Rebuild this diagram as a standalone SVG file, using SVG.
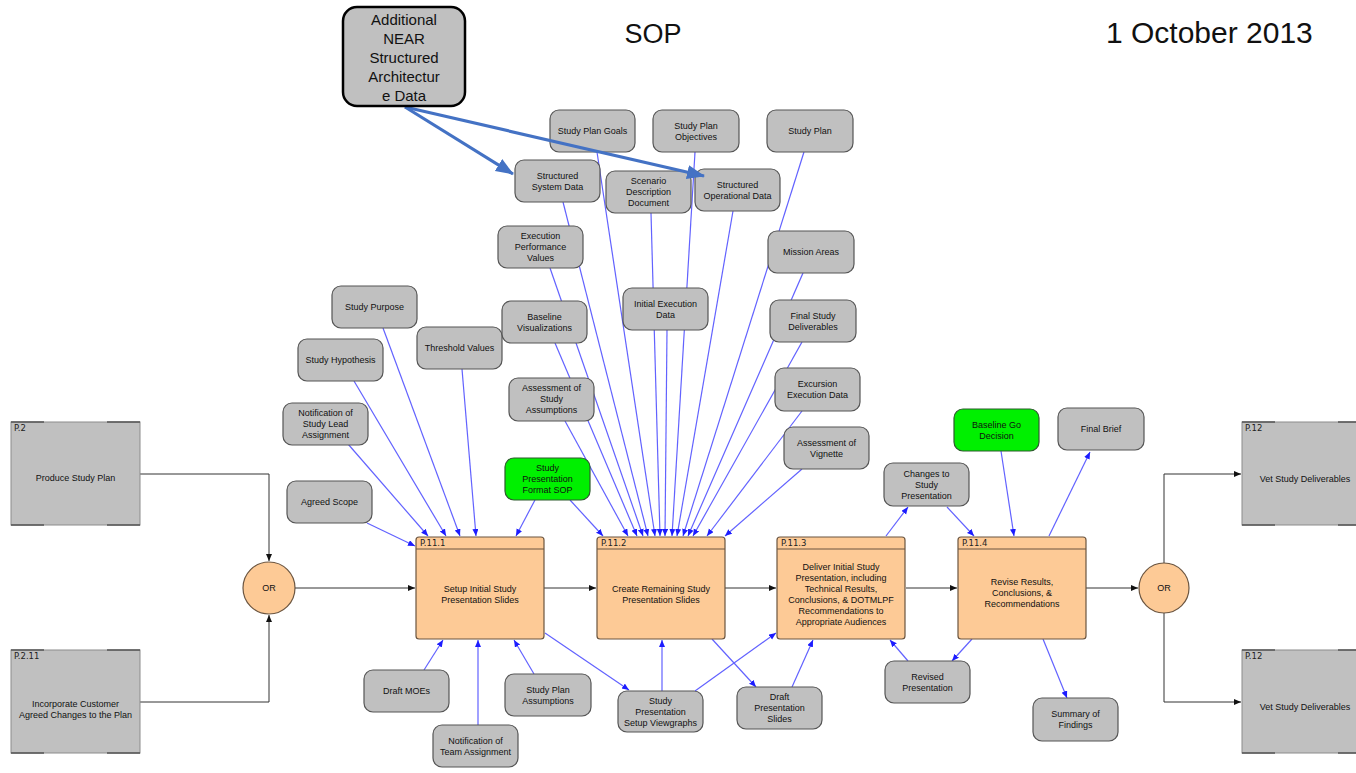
<svg xmlns="http://www.w3.org/2000/svg" width="1356" height="773" viewBox="0 0 1356 773">
<style>
.t{font-family:"Liberation Sans",Arial,sans-serif;font-size:9px;fill:#111;text-anchor:middle}
.h{font-family:"DejaVu Sans",Verdana,sans-serif;font-size:8.5px;fill:#222}
.n rect{fill:#c0c0c0;stroke:#555;stroke-width:1.2}
.g rect{fill:#00f000;stroke:#2d5a2d;stroke-width:1.2}
.p rect{fill:#fdca96;stroke:#6b5540;stroke-width:1.2}
.p line{stroke:#6b5540;stroke-width:1}
.q rect{fill:#c0c0c0;stroke:#8c8c8c;stroke-width:1}
.q path{fill:none;stroke:#555;stroke-width:1.6}
.or circle{fill:#fdca96;stroke:#6b5540;stroke-width:1.2}
.bl{stroke:#6262ff;stroke-width:1.2;fill:none;marker-end:url(#ab)}
.bk{stroke:#333;stroke-width:1;fill:none;marker-end:url(#ak)}
.big{stroke:#4472c4;stroke-width:3.2;fill:none;marker-end:url(#abig)}
</style>
<defs>
<marker id="ab" markerUnits="userSpaceOnUse" markerWidth="8" markerHeight="7" refX="7" refY="3" orient="auto"><path d="M0,0 L7,3 L0,6 z" fill="#1c1cff"/></marker>
<marker id="ak" markerUnits="userSpaceOnUse" markerWidth="8" markerHeight="7" refX="7" refY="3" orient="auto"><path d="M0,0 L7,3 L0,6 z" fill="#111"/></marker>
<marker id="abig" markerUnits="userSpaceOnUse" markerWidth="20" markerHeight="16" refX="17" refY="7" orient="auto"><path d="M0,0 L18,7 L0,14 z" fill="#4472c4"/></marker>
</defs>
<rect width="1356" height="773" fill="#fff"/>
<text x="653" y="43" style="font-family:'Liberation Sans',Arial,sans-serif;font-size:27px;fill:#111" text-anchor="middle">SOP</text>
<text x="1106" y="43" style="font-family:'Liberation Sans',Arial,sans-serif;font-size:30px;fill:#111">1 October 2013</text>

<g id="connectors">
<path class="bk" d="M140,474 H269 V561"/>
<path class="bk" d="M140,702 H269 V615"/>
<path class="bk" d="M295,588 H415"/>
<path class="bk" d="M544,588 H596"/>
<path class="bk" d="M725,588 H776"/>
<path class="bk" d="M906,588 H957"/>
<path class="bk" d="M1086,588 H1138"/>
<path class="bk" d="M1164,563 V474 H1241"/>
<path class="bk" d="M1164,613 V702 H1241"/>
<line class="bl" x1="348" y1="444" x2="428" y2="536"/>
<line class="bl" x1="354" y1="381" x2="446" y2="536"/>
<line class="bl" x1="383" y1="328" x2="460" y2="536"/>
<line class="bl" x1="462" y1="369" x2="476" y2="536"/>
<line class="bl" x1="535" y1="500" x2="516" y2="536"/>
<line class="bl" x1="367" y1="523" x2="415" y2="546"/>
<line class="bl" x1="570" y1="500" x2="603" y2="536"/>
<line class="bl" x1="565" y1="421" x2="628" y2="536"/>
<line class="bl" x1="555" y1="343" x2="637" y2="536"/>
<line class="bl" x1="550" y1="268" x2="643" y2="536"/>
<line class="bl" x1="563" y1="202" x2="648" y2="536"/>
<line class="bl" x1="597" y1="152" x2="655" y2="536"/>
<line class="bl" x1="651" y1="213" x2="660" y2="536"/>
<line class="bl" x1="667" y1="330" x2="665" y2="536"/>
<line class="bl" x1="695" y1="152" x2="672" y2="536"/>
<line class="bl" x1="733" y1="211" x2="677" y2="536"/>
<line class="bl" x1="804" y1="152" x2="683" y2="536"/>
<line class="bl" x1="803" y1="273" x2="688" y2="536"/>
<line class="bl" x1="802" y1="342" x2="693" y2="536"/>
<line class="bl" x1="802" y1="411" x2="707" y2="536"/>
<line class="bl" x1="802" y1="469" x2="725" y2="536"/>
<line class="bl" x1="545" y1="633" x2="629" y2="690"/>
<line class="bl" x1="662" y1="691" x2="662" y2="640"/>
<line class="bl" x1="695" y1="691" x2="776" y2="633"/>
<line class="bl" x1="712" y1="639" x2="756" y2="687"/>
<line class="bl" x1="792" y1="687" x2="813" y2="640"/>
<line class="bl" x1="424" y1="670" x2="443" y2="640"/>
<line class="bl" x1="478" y1="725" x2="478" y2="640"/>
<line class="bl" x1="534" y1="674" x2="514" y2="640"/>
<line class="bl" x1="886" y1="536" x2="908" y2="507"/>
<line class="bl" x1="947" y1="507" x2="974" y2="536"/>
<line class="bl" x1="1001" y1="451" x2="1014" y2="536"/>
<line class="bl" x1="1049" y1="536" x2="1090" y2="452"/>
<line class="bl" x1="972" y1="639" x2="952" y2="661"/>
<line class="bl" x1="908" y1="661" x2="890" y2="640"/>
<line class="bl" x1="1043" y1="639" x2="1067" y2="698"/>
</g>

<g id="P2" class="q"><rect x="11" y="422" width="129" height="103"/><path d="M11,422 H44 M107,422 H140 M11,525 H44 M107,525 H140"/><text class="h" x="14" y="431">P.2</text><text class="t" x="75.5" y="481">Produce Study Plan</text></g>
<g id="P2_11" class="q"><rect x="11" y="650" width="129" height="103"/><path d="M11,650 H44 M107,650 H140 M11,753 H44 M107,753 H140"/><text class="h" x="14" y="659">P.2.11</text><text class="t" x="75.5" y="707">Incorporate Customer</text><text class="t" x="75.5" y="718">Agreed Changes to the Plan</text></g>
<g id="P12a" class="q"><rect x="1242" y="422" width="129" height="103"/><path d="M1242,422 H1275 M1338,422 H1371 M1242,525 H1275 M1338,525 H1371"/><text class="h" x="1245" y="431">P.12</text><text class="t" x="1305" y="482">Vet Study Deliverables</text></g>
<g id="P12b" class="q"><rect x="1242" y="650" width="129" height="103"/><path d="M1242,650 H1275 M1338,650 H1371 M1242,753 H1275 M1338,753 H1371"/><text class="h" x="1245" y="659">P.12</text><text class="t" x="1305" y="710">Vet Study Deliverables</text></g>

<g id="OR1" class="or"><circle cx="269" cy="588" r="26"/><text class="t" x="269" y="591">OR</text></g>
<g id="OR2" class="or"><circle cx="1164" cy="588" r="25"/><text class="t" x="1164" y="591">OR</text></g>

<g id="P11_1" class="p"><rect x="416" y="537" width="128" height="102" rx="3"/><line x1="416" y1="549" x2="544" y2="549"/><text class="h" x="420" y="546">P.11.1</text><text class="t" x="480" y="592">Setup Initial Study</text><text class="t" x="480" y="603">Presentation Slides</text></g>
<g id="P11_2" class="p"><rect x="597" y="537" width="128" height="102" rx="3"/><line x1="597" y1="549" x2="725" y2="549"/><text class="h" x="601" y="546">P.11.2</text><text class="t" x="661" y="592">Create Remaining Study</text><text class="t" x="661" y="603">Presentation Slides</text></g>
<g id="P11_3" class="p"><rect x="777" y="537" width="128" height="102" rx="3"/><line x1="777" y1="549" x2="905" y2="549"/><text class="h" x="781" y="546">P.11.3</text><text class="t" x="841" y="569.5">Deliver Initial Study</text><text class="t" x="841" y="580.5">Presentation, including</text><text class="t" x="841" y="591.5">Technical Results,</text><text class="t" x="841" y="602.5">Conclusions, &amp; DOTMLPF</text><text class="t" x="841" y="613.5">Recommendations to</text><text class="t" x="841" y="624.5">Appropriate Audiences</text></g>
<g id="P11_4" class="p"><rect x="958" y="537" width="128" height="102" rx="3"/><line x1="958" y1="549" x2="1086" y2="549"/><text class="h" x="962" y="546">P.11.4</text><text class="t" x="1022" y="585">Revise Results,</text><text class="t" x="1022" y="596">Conclusions, &amp;</text><text class="t" x="1022" y="607">Recommendations</text></g>

<g id="n_notif_lead" class="n"><rect x="283" y="403" width="85" height="42" rx="9"/><text class="t" x="325.5" y="416">Notification of</text><text class="t" x="325.5" y="427">Study Lead</text><text class="t" x="325.5" y="438">Assignment</text></g>
<g id="n_agreed_scope" class="n"><rect x="287" y="481" width="85" height="42" rx="9"/><text class="t" x="329.5" y="505">Agreed Scope</text></g>
<g id="n_hypothesis" class="n"><rect x="298" y="339" width="85" height="42" rx="9"/><text class="t" x="340.5" y="363">Study Hypothesis</text></g>
<g id="n_purpose" class="n"><rect x="332" y="286" width="85" height="42" rx="9"/><text class="t" x="374.5" y="310">Study Purpose</text></g>
<g id="n_threshold" class="n"><rect x="417" y="327" width="85" height="42" rx="9"/><text class="t" x="459.5" y="351">Threshold Values</text></g>
<g id="n_ssd" class="n"><rect x="515" y="160" width="85" height="42" rx="9"/><text class="t" x="557.5" y="178.5">Structured</text><text class="t" x="557.5" y="189.5">System Data</text></g>
<g id="n_epv" class="n"><rect x="498" y="226" width="85" height="42" rx="9"/><text class="t" x="540.5" y="239">Execution</text><text class="t" x="540.5" y="250">Performance</text><text class="t" x="540.5" y="261">Values</text></g>
<g id="n_bv" class="n"><rect x="502" y="301" width="85" height="42" rx="9"/><text class="t" x="544.5" y="319.5">Baseline</text><text class="t" x="544.5" y="330.5">Visualizations</text></g>
<g id="n_asa" class="n"><rect x="509" y="378" width="85" height="43" rx="9"/><text class="t" x="551.5" y="391">Assessment of</text><text class="t" x="551.5" y="402">Study</text><text class="t" x="551.5" y="413">Assumptions</text></g>
<g id="g_sop" class="g"><rect x="505" y="458" width="85" height="42" rx="9"/><text class="t" x="547.5" y="471">Study</text><text class="t" x="547.5" y="482">Presentation</text><text class="t" x="547.5" y="493">Format SOP</text></g>
<g id="n_spg" class="n"><rect x="550" y="110" width="85" height="42" rx="9"/><text class="t" x="592.5" y="134">Study Plan Goals</text></g>
<g id="n_spo" class="n"><rect x="653" y="110" width="86" height="42" rx="9"/><text class="t" x="696" y="128.5">Study Plan</text><text class="t" x="696" y="139.5">Objectives</text></g>
<g id="n_sp" class="n"><rect x="767" y="110" width="86" height="42" rx="9"/><text class="t" x="810" y="134">Study Plan</text></g>
<g id="n_sdd" class="n"><rect x="606" y="171" width="85" height="42" rx="9"/><text class="t" x="648.5" y="184">Scenario</text><text class="t" x="648.5" y="195">Description</text><text class="t" x="648.5" y="206">Document</text></g>
<g id="n_sod" class="n"><rect x="695" y="169" width="85" height="42" rx="9"/><text class="t" x="737.5" y="187.5">Structured</text><text class="t" x="737.5" y="198.5">Operational Data</text></g>
<g id="n_ma" class="n"><rect x="768" y="231" width="86" height="42" rx="9"/><text class="t" x="811" y="255">Mission Areas</text></g>
<g id="n_ied" class="n"><rect x="623" y="288" width="85" height="42" rx="9"/><text class="t" x="665.5" y="306.5">Initial Execution</text><text class="t" x="665.5" y="317.5">Data</text></g>
<g id="n_fsd" class="n"><rect x="770" y="300" width="86" height="42" rx="9"/><text class="t" x="813" y="318.5">Final Study</text><text class="t" x="813" y="329.5">Deliverables</text></g>
<g id="n_eed" class="n"><rect x="775" y="368" width="85" height="43" rx="9"/><text class="t" x="817.5" y="386.5">Excursion</text><text class="t" x="817.5" y="397.5">Execution Data</text></g>
<g id="n_av" class="n"><rect x="784" y="427" width="85" height="42" rx="9"/><text class="t" x="826.5" y="445.5">Assessment of</text><text class="t" x="826.5" y="456.5">Vignette</text></g>
<g id="g_bgd" class="g"><rect x="954" y="409" width="85" height="42" rx="9"/><text class="t" x="996.5" y="427.5">Baseline Go</text><text class="t" x="996.5" y="438.5">Decision</text></g>
<g id="n_fb" class="n"><rect x="1058" y="408" width="86" height="42" rx="9"/><text class="t" x="1101" y="432">Final Brief</text></g>
<g id="n_csp" class="n"><rect x="884" y="463" width="85" height="43" rx="9"/><text class="t" x="926.5" y="476.5">Changes to</text><text class="t" x="926.5" y="487.5">Study</text><text class="t" x="926.5" y="498.5">Presentation</text></g>
<g id="n_rp" class="n"><rect x="885" y="661" width="85" height="42" rx="9"/><text class="t" x="927.5" y="679.5">Revised</text><text class="t" x="927.5" y="690.5">Presentation</text></g>
<g id="n_sof" class="n"><rect x="1033" y="698" width="85" height="43" rx="9"/><text class="t" x="1075.5" y="716.5">Summary of</text><text class="t" x="1075.5" y="727.5">Findings</text></g>
<g id="n_dps" class="n"><rect x="737" y="687" width="85" height="42" rx="9"/><text class="t" x="779.5" y="700">Draft</text><text class="t" x="779.5" y="711">Presentation</text><text class="t" x="779.5" y="722">Slides</text></g>
<g id="n_dmoe" class="n"><rect x="364" y="670" width="85" height="42" rx="9"/><text class="t" x="406.5" y="694">Draft MOEs</text></g>
<g id="n_nta" class="n"><rect x="433" y="725" width="85" height="42" rx="9"/><text class="t" x="475.5" y="743.5">Notification of</text><text class="t" x="475.5" y="754.5">Team Assignment</text></g>
<g id="n_spa" class="n"><rect x="505" y="674" width="86" height="42" rx="9"/><text class="t" x="548" y="692.5">Study Plan</text><text class="t" x="548" y="703.5">Assumptions</text></g>
<g id="n_spsv" class="n"><rect x="618" y="691" width="85" height="41" rx="9"/><text class="t" x="660.5" y="704">Study</text><text class="t" x="660.5" y="715">Presentation</text><text class="t" x="660.5" y="726">Setup Viewgraphs</text></g>

<g id="near_arrows">
<line class="big" x1="405" y1="107" x2="513" y2="174"/>
<line class="big" x1="405" y1="107" x2="704" y2="176"/>
</g>
<g id="n_near"><rect x="343" y="7" width="122" height="99" rx="14" fill="#c0c0c0" stroke="#000" stroke-width="2.5"/>
<g style="font-family:'Liberation Sans',Arial,sans-serif;font-size:15px;fill:#111" text-anchor="middle"><text x="404" y="25">Additional</text><text x="404" y="44">NEAR</text><text x="404" y="63">Structured</text><text x="404" y="82">Architectur</text><text x="404" y="101">e Data</text></g></g>
</svg>
